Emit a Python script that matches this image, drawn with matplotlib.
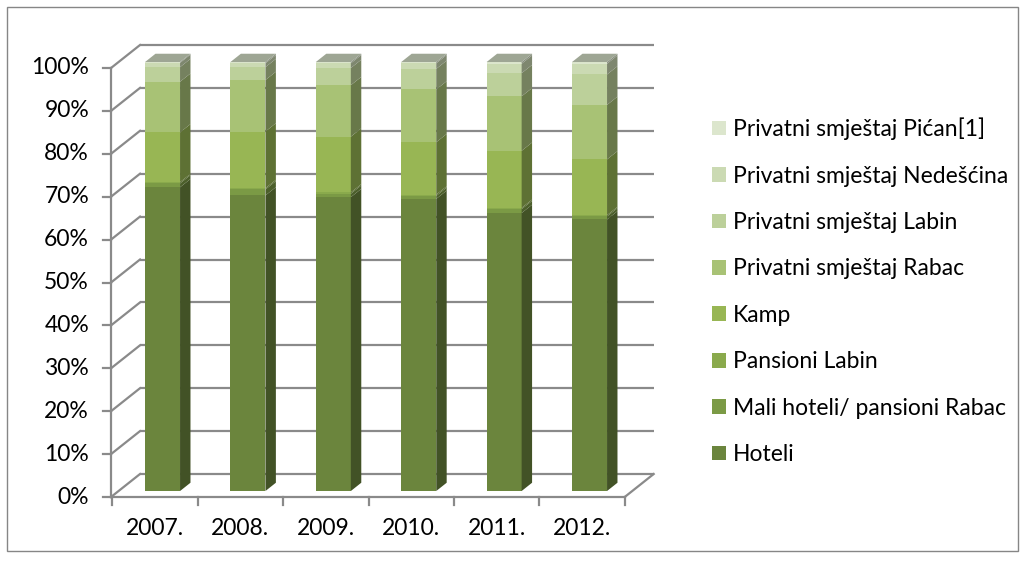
import numpy as np
import matplotlib.pyplot as plt
from matplotlib.patches import Polygon, Rectangle
from matplotlib.colors import to_rgb

plt.rcParams['font.family'] = ['Lato', 'DejaVu Sans']

godine = ['2007.', '2008.', '2009.', '2010.', '2011.', '2012.']

# udio smještajnih kapaciteta po vrsti (%)
hoteli = [70.8, 68.9, 68.5, 68.1, 64.8, 63.3]
mali_hoteli = [0.9, 1.4, 0.8, 0.7, 0.9, 0.7]
pansioni_labin = [0.3, 0.3, 0.3, 0.3, 0.3, 0.3]
kamp = [11.6, 13.2, 13.0, 12.2, 13.3, 13.0]
priv_rabac = [11.8, 12.0, 12.0, 12.3, 12.7, 12.7]
priv_labin = [3.4, 3.0, 4.0, 4.8, 5.4, 7.1]
priv_nedescina = [1.0, 0.9, 1.1, 1.3, 2.2, 2.5]
priv_pican = [0.2, 0.3, 0.3, 0.3, 0.4, 0.4]

nazivi = ['Hoteli', 'Mali hoteli/ pansioni Rabac', 'Pansioni Labin', 'Kamp',
          'Privatni smještaj Rabac', 'Privatni smještaj Labin',
          'Privatni smještaj Nedešćina', 'Privatni smještaj Pićan[1]']
serije = [hoteli, mali_hoteli, pansioni_labin, kamp, priv_rabac,
          priv_labin, priv_nedescina, priv_pican]
boje = ['#6b853d', '#7b9a45', '#8aaa4c', '#98b654', '#a8c275',
        '#bcd09a', '#cbdab3', '#dce6cd']

W, H = 1025, 563
fig = plt.figure(figsize=(W / 100, H / 100), dpi=100)

# osi preko cijele slike: x u kategorijama, y u postocima (prednja ravnina)
px_x, px_y = 85.4, 4.29
x0, y0 = 155, 497
ax = fig.add_axes([0, 0, 1, 1])
ax.set_xlim(-x0 / px_x, (W - x0) / px_x)
ax.set_ylim(-(H - y0) / px_y, y0 / px_y)
ax.axis('off')

# dubina 3D prikaza
Dx, Dy = 29 / px_x, 23 / px_y
xl, xr = -0.515, 5.5
siva = '#8a8a8a'
lw = 1.6
fs = 16.5

# zidovi i mreža
for p in range(0, 101, 10):
    ax.plot([xl + Dx, xr + Dx], [p + Dy, p + Dy], color=siva, lw=lw, zorder=1,
            solid_capstyle='butt')
    ax.plot([xl, xl + Dx], [p, p + Dy], color=siva, lw=lw, zorder=1)
    ax.plot([xl - 8 / px_x, xl], [p, p], color=siva, lw=lw, zorder=1)
    ax.text(xl - 22 / px_x, p, f'{p}%', ha='right', va='center', fontsize=fs)
ax.plot([xl, xl], [0, 100], color=siva, lw=lw, zorder=1)
ax.plot([xl, xr], [0, 0], color=siva, lw=lw, zorder=1)
ax.plot([xr, xr + Dx], [0, Dy], color=siva, lw=lw, zorder=1)
for k in range(len(godine) + 1):
    ax.plot([k - 0.5, k - 0.5], [0, -8 / px_y], color=siva, lw=lw, zorder=1)
for i, g in enumerate(godine):
    ax.text(i, -7.4, g, ha='center', va='center', fontsize=fs)

# stupci
vrijednosti = np.array(serije, dtype=float)
vrijednosti = vrijednosti / vrijednosti.sum(axis=0) * 100
x = np.arange(len(godine))
t_f, t_b = 0.26, 0.62
w = 35 / px_x
bx, by = (t_b - t_f) * Dx, (t_b - t_f) * Dy
dno = np.zeros(len(godine))
rucke = []
for vals, naziv, boja in zip(vrijednosti, nazivi, boje):
    c = np.array(to_rgb(boja))
    b = ax.bar(x + t_f * Dx, vals, bottom=dno + t_f * Dy, width=w, color=boja,
               label=naziv, zorder=3, linewidth=0)
    rucke.append(b)
    for i in range(len(x)):
        xr_b = x[i] + t_f * Dx + w / 2
        ya, yb = dno[i] + t_f * Dy, dno[i] + vals[i] + t_f * Dy
        ax.add_patch(Polygon([(xr_b, ya), (xr_b + bx, ya + by),
                              (xr_b + bx, yb + by), (xr_b, yb)],
                             closed=True, facecolor=c * 0.62, lw=0, zorder=3))
    dno = dno + vals

# gornja ploha
vrh = np.array(to_rgb(boje[-1])) * 0.72
for i in range(len(x)):
    xa = x[i] + t_f * Dx - w / 2
    yt = dno[i] + t_f * Dy
    ax.add_patch(Polygon([(xa, yt), (xa + w, yt), (xa + w + bx, yt + by),
                          (xa + bx, yt + by)], closed=True, facecolor=vrh,
                         lw=0, zorder=3))

leg = ax.legend(handles=rucke[::-1], loc='upper left',
                bbox_to_anchor=(701 / W, 1 - 106 / H), frameon=False,
                fontsize=fs, handlelength=0.61, handleheight=0.61,
                handletextpad=0.3, labelspacing=1.11, borderpad=0)

fig.add_artist(Rectangle((7 / W, 1 - 551 / H), 1011 / W, 544 / H,
                         transform=fig.transFigure, fill=False,
                         edgecolor='#868686', lw=1))

fig.savefig('out.png', dpi=100)
